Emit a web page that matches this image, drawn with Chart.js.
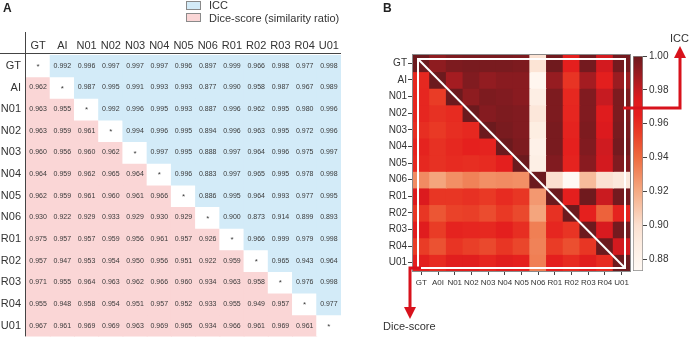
<!DOCTYPE html>
<html>
<head>
<meta charset="utf-8">
<script src="https://cdn.jsdelivr.net/npm/chart.js@4.4.0/dist/chart.umd.min.js"></script>
<style>
  body { margin: 0; background: #fff; font-family: "Liberation Sans", Arial, sans-serif; color: #333; }
  #wrap { position: relative; width: 690px; height: 348px; overflow: hidden; }
  canvas, .txt, .box { position: absolute; }
  .txt { font-size: 11px; line-height: 12px; white-space: nowrap; }
  .letter { font-size: 12px; font-weight: bold; color: #222; }
  .box { width: 13px; height: 7px; border: 1px solid #8a8a8a; }
</style>
</head>
<body>
<div id="wrap">
  <canvas id="barChart" width="70" height="348" style="left:620px;top:0"></canvas>
  <canvas id="tableChart" width="345" height="348" style="left:0;top:0"></canvas>
  <canvas id="heatChart" width="345" height="348" style="left:345px;top:0"></canvas>

  <div class="txt letter" style="left:3px;top:2px">A</div>
  <div class="txt letter" style="left:383px;top:2px">B</div>

  <div class="box" style="left:186px;top:1px;background:#d3ebf8"></div>
  <div class="txt" style="left:209px;top:-1px">ICC</div>
  <div class="box" style="left:186px;top:13px;background:#fad6d6"></div>
  <div class="txt" style="left:209px;top:12px">Dice-score (similarity ratio)</div>

  <div class="txt" style="left:670px;top:32px">ICC</div>
  <div class="txt" style="left:383px;top:320px">Dice-score</div>
</div>

<script>
// names of the 13 segmentations (panel B prints "A0I" on its x axis)
const names = ['GT', 'AI', 'N01', 'N02', 'N03', 'N04', 'N05', 'N06', 'R01', 'R02', 'R03', 'R04', 'U01'];
const namesB = ['GT', 'A0I', 'N01', 'N02', 'N03', 'N04', 'N05', 'N06', 'R01', 'R02', 'R03', 'R04', 'U01'];

// one row per segmentation: left of the diagonal = Dice score, right = ICC, null = diagonal
const rowGT  = [null, 0.992, 0.996, 0.997, 0.997, 0.997, 0.996, 0.897, 0.999, 0.966, 0.998, 0.977, 0.998];
const rowAI  = [0.962, null, 0.987, 0.995, 0.991, 0.993, 0.993, 0.877, 0.990, 0.958, 0.987, 0.967, 0.989];
const rowN01 = [0.963, 0.955, null, 0.992, 0.996, 0.995, 0.993, 0.887, 0.996, 0.962, 0.995, 0.980, 0.996];
const rowN02 = [0.963, 0.959, 0.961, null, 0.994, 0.996, 0.995, 0.894, 0.996, 0.963, 0.995, 0.972, 0.996];
const rowN03 = [0.960, 0.956, 0.960, 0.962, null, 0.997, 0.995, 0.888, 0.997, 0.964, 0.996, 0.975, 0.997];
const rowN04 = [0.964, 0.959, 0.962, 0.965, 0.964, null, 0.996, 0.883, 0.997, 0.965, 0.995, 0.978, 0.998];
const rowN05 = [0.962, 0.959, 0.961, 0.960, 0.961, 0.966, null, 0.886, 0.995, 0.964, 0.993, 0.977, 0.995];
const rowN06 = [0.930, 0.922, 0.929, 0.933, 0.929, 0.930, 0.929, null, 0.900, 0.873, 0.914, 0.899, 0.893];
const rowR01 = [0.975, 0.957, 0.957, 0.959, 0.956, 0.961, 0.957, 0.926, null, 0.966, 0.999, 0.979, 0.998];
const rowR02 = [0.957, 0.947, 0.953, 0.954, 0.950, 0.956, 0.951, 0.922, 0.959, null, 0.965, 0.943, 0.964];
const rowR03 = [0.971, 0.955, 0.964, 0.963, 0.962, 0.966, 0.960, 0.934, 0.963, 0.958, null, 0.976, 0.998];
const rowR04 = [0.955, 0.948, 0.958, 0.954, 0.951, 0.957, 0.952, 0.933, 0.955, 0.949, 0.957, null, 0.977];
const rowU01 = [0.967, 0.961, 0.969, 0.969, 0.963, 0.969, 0.965, 0.934, 0.966, 0.961, 0.969, 0.961, null];
const tableRows = [rowGT, rowAI, rowN01, rowN02, rowN03, rowN04, rowN05, rowN06, rowR01, rowR02, rowR03, rowR04, rowU01];

const diagonalValue = 1.0;   // heatmap shows the diagonal as a perfect match
const colorbarTicks = [0.88, 0.90, 0.92, 0.94, 0.96, 0.98, 1.00];

const allValues = tableRows.flat().filter(v => v !== null);
const cbMin = Math.min(...allValues);
const cbMax = diagonalValue;

// colours
const iccFill = '#d3ebf8';
const diceFill = '#fad6d6';
const arrowRed = '#d8121c';
const colorStops = [
  [0.873, [255, 249, 244]],
  [0.890, [253, 236, 224]],
  [0.900, [251, 224, 208]],
  [0.920, [245, 171, 132]],
  [0.940, [238, 108, 64]],
  [0.955, [233, 60, 38]],
  [0.965, [229, 32, 30]],
  [0.975, [220, 26, 30]],
  [0.980, [198, 27, 33]],
  [0.990, [150, 28, 33]],
  [1.000, [108, 26, 30]]
];

function heatColor(v) {
  for (let i = 1; i < colorStops.length; i++) {
    const [v1, c1] = colorStops[i];
    if (v <= v1) {
      const [v0, c0] = colorStops[i - 1];
      const t = Math.max(0, Math.min(1, (v - v0) / (v1 - v0)));
      const c = c0.map((k, n) => Math.round(k + (c1[n] - k) * t));
      return `rgb(${c[0]},${c[1]},${c[2]})`;
    }
  }
  const c = colorStops[colorStops.length - 1][1];
  return `rgb(${c[0]},${c[1]},${c[2]})`;
}

Chart.defaults.font.family = '"Liberation Sans", Arial, sans-serif';
Chart.defaults.color = '#333';

// ticks in the middle of each row of a 0..13 linear axis
function rowTicks(scale) {
  scale.ticks = names.map((n, i) => ({ value: i + 0.5 }));
}

// ---------- panel A: table ----------
const tableLines = {
  id: 'tableLines',
  afterDraw(chart) {
    const { ctx, chartArea } = chart;
    ctx.save();
    ctx.strokeStyle = '#444';
    ctx.lineWidth = 1;
    ctx.beginPath();
    ctx.moveTo(chartArea.left - 0.5, 32);
    ctx.lineTo(chartArea.left - 0.5, chartArea.bottom);
    ctx.moveTo(0, chartArea.top - 1.5);
    ctx.lineTo(chartArea.right, chartArea.top - 1.5);
    ctx.stroke();
    ctx.restore();
  }
};

const cellText = {
  id: 'cellText',
  afterDatasetsDraw(chart) {
    const { ctx, scales: { x, y } } = chart;
    ctx.save();
    ctx.fillStyle = '#3a3a3a';
    ctx.textAlign = 'center';
    ctx.textBaseline = 'middle';
    tableRows.forEach((row, r) => {
      row.forEach((v, c) => {
        const px = x.getPixelForValue(c);
        const py = y.getPixelForValue(r + 0.5);
        if (v === null) {
          ctx.font = '8px "Liberation Sans", Arial, sans-serif';
          ctx.fillText('*', px, py + 1);
        } else {
          ctx.font = '7px "Liberation Sans", Arial, sans-serif';
          ctx.fillText(v.toFixed(3), px, py);
        }
      });
    });
    ctx.restore();
  }
};

new Chart(document.getElementById('tableChart'), {
  type: 'bar',
  data: {
    labels: names,
    datasets: tableRows.map((row, r) => ({
      data: row.map(() => [r, r + 1]),
      backgroundColor: row.map((v, c) => c === r ? '#ffffff' : (c > r ? iccFill : diceFill)),
      borderWidth: 0,
      barPercentage: 1,
      categoryPercentage: 1,
      grouped: false,
      inflateAmount: 0.5
    }))
  },
  options: {
    responsive: false,
    animation: false,
    layout: { padding: { left: 0, right: 4, top: 0, bottom: 0 } },
    plugins: { legend: { display: false }, tooltip: { enabled: false } },
    scales: {
      x: {
        position: 'top',
        grid: { display: false, drawTicks: false },
        border: { display: false },
        ticks: { font: { size: 11 }, color: '#333', padding: 2, autoSkip: false, maxRotation: 0 },
        afterFit(s) { s.height = 55; }
      },
      y: {
        type: 'linear',
        reverse: true,
        min: 0,
        max: 13,
        grid: { display: false, drawTicks: false },
        border: { display: false },
        afterBuildTicks: rowTicks,
        ticks: { font: { size: 11 }, color: '#333', padding: 5, autoSkip: false, callback: v => names[Math.floor(v)] },
        afterFit(s) { s.width = 26; }
      }
    }
  },
  plugins: [tableLines, cellText]
});

// ---------- panel B: heatmap ----------
const heatOverlay = {
  id: 'heatOverlay',
  afterDraw(chart) {
    const { ctx, chartArea: a } = chart;
    ctx.save();
    ctx.strokeStyle = '#8a8a8a';
    ctx.lineWidth = 1;
    ctx.strokeRect(a.left - 0.5, a.top - 0.5, a.right - a.left + 1, a.bottom - a.top + 1);

    const L = a.left + 5, T = a.top + 4, R = a.right - 5, B = a.bottom - 3;
    ctx.strokeStyle = '#ffffff';
    ctx.lineWidth = 2;
    ctx.strokeRect(L, T, R - L, B - T);
    ctx.beginPath();
    ctx.moveTo(L, T);
    ctx.lineTo(R, B);
    ctx.stroke();

    // ICC arrow (upper triangle)
    ctx.strokeStyle = arrowRed;
    ctx.fillStyle = arrowRed;
    ctx.lineWidth = 3;
    const yI = a.top + 53, xI = 335;
    ctx.beginPath();
    ctx.moveTo(R - 2, yI);
    ctx.lineTo(xI, yI);
    ctx.lineTo(xI, 57);
    ctx.stroke();
    ctx.beginPath();
    ctx.moveTo(xI, 46);
    ctx.lineTo(xI - 6, 58);
    ctx.lineTo(xI + 6, 58);
    ctx.closePath();
    ctx.fill();

    // Dice arrow (lower triangle)
    const xD = a.left - 3;
    ctx.beginPath();
    ctx.moveTo(L + 3, B);
    ctx.lineTo(xD, B);
    ctx.lineTo(xD, 309);
    ctx.stroke();
    ctx.beginPath();
    ctx.moveTo(xD, 319);
    ctx.lineTo(xD - 6, 307);
    ctx.lineTo(xD + 6, 307);
    ctx.closePath();
    ctx.fill();
    ctx.restore();
  }
};

new Chart(document.getElementById('heatChart'), {
  type: 'bar',
  data: {
    labels: namesB,
    datasets: tableRows.map((row, r) => ({
      data: row.map(() => [r, r + 1]),
      backgroundColor: row.map(v => heatColor(v === null ? diagonalValue : v)),
      borderWidth: 0,
      barPercentage: 1,
      categoryPercentage: 1,
      grouped: false,
      inflateAmount: 0.5
    }))
  },
  options: {
    responsive: false,
    animation: false,
    layout: { padding: { left: 0, right: 60, top: 55, bottom: 0 } },
    plugins: { legend: { display: false }, tooltip: { enabled: false } },
    scales: {
      x: {
        grid: { display: true, drawOnChartArea: false, offset: false, tickLength: 4, color: '#444' },
        border: { display: false },
        ticks: { font: { size: 8 }, color: '#333', padding: 3, autoSkip: false, maxRotation: 0 },
        afterFit(s) { s.height = 77; }
      },
      y: {
        type: 'linear',
        reverse: true,
        min: 0,
        max: 13,
        grid: { display: true, drawOnChartArea: false, tickLength: 5, color: '#444' },
        border: { display: false },
        afterBuildTicks: rowTicks,
        ticks: { font: { size: 10 }, color: '#333', padding: 1, autoSkip: false, callback: v => names[Math.floor(v)] },
        afterFit(s) { s.width = 68; }
      }
    }
  },
  plugins: [heatOverlay]
});

// ---------- colour bar ----------
new Chart(document.getElementById('barChart'), {
  type: 'bar',
  data: {
    labels: [''],
    datasets: [{
      data: [[cbMin, cbMax]],
      backgroundColor(context) {
        const { ctx, chartArea, scales } = context.chart;
        if (!chartArea) return '#fff';
        const y = scales.y;
        const g = ctx.createLinearGradient(0, y.getPixelForValue(cbMin), 0, y.getPixelForValue(cbMax));
        colorStops.forEach(([v, c]) => {
          const t = Math.max(0, Math.min(1, (v - cbMin) / (cbMax - cbMin)));
          g.addColorStop(t, `rgb(${c[0]},${c[1]},${c[2]})`);
        });
        return g;
      },
      borderColor: '#8a8a8a',
      borderWidth: 1,
      borderSkipped: false,
      barPercentage: 1,
      categoryPercentage: 1
    }]
  },
  options: {
    responsive: false,
    animation: false,
    layout: { padding: { left: 13, right: 0, top: 56, bottom: 77 } },
    plugins: { legend: { display: false }, tooltip: { enabled: false } },
    scales: {
      x: { display: false },
      y: {
        position: 'right',
        min: cbMin,
        max: cbMax,
        grid: { display: true, drawOnChartArea: false, tickLength: 4, color: '#444' },
        border: { display: false },
        afterBuildTicks(s) { s.ticks = colorbarTicks.map(v => ({ value: v })); },
        ticks: { font: { size: 10 }, color: '#333', padding: 2, callback: v => v.toFixed(2) },
        afterFit(s) { s.width = 47; }
      }
    }
  }
});
</script>
</body>
</html>
